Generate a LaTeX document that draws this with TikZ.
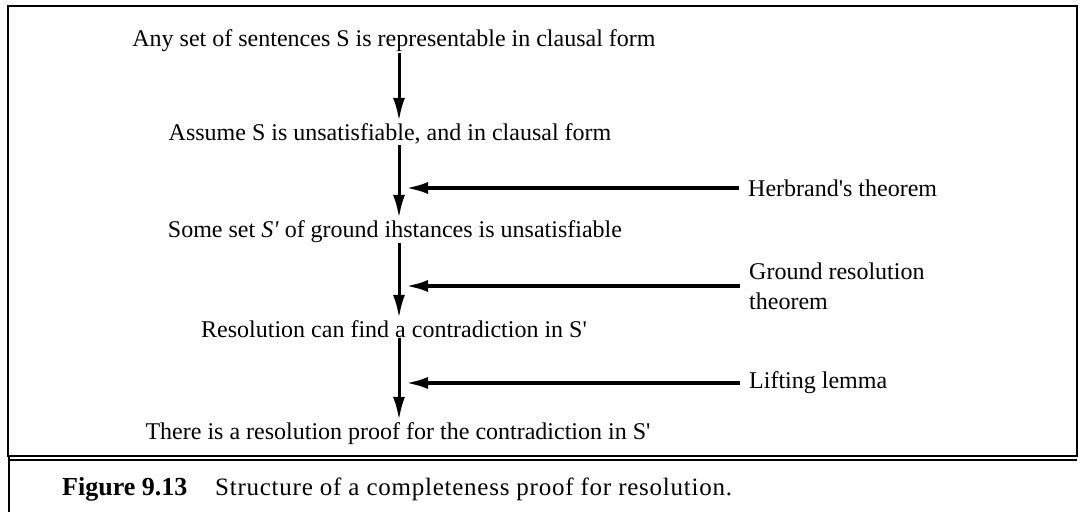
\documentclass[tikz,border=0pt]{standalone}
\usepackage{fontspec}
\setmainfont{Liberation Serif}[Ligatures=TeXOff]
\newfontfamily\capfont{Liberation Serif}[Ligatures=TeXOff,LetterSpace=3]
\usetikzlibrary{arrows.meta}
\begin{document}
\begin{tikzpicture}[x=1pt,y=-1pt,
  stmt/.style={inner sep=0pt, anchor=base, font=\fontsize{24}{28}\selectfont},
  lbl/.style={inner sep=0pt, anchor=west, align=left, font=\fontsize{24}{30}\selectfont},
  captxt/.style={inner sep=0pt, anchor=base west},
  varrow/.style={line width=3pt, -{Latex[length=23pt,width=12pt]}, shorten <=1pt, shorten >=2pt},
  harrow/.style={line width=4pt, -{Latex[length=23pt,width=12pt]}, shorten <=9pt, shorten >=6pt},
  frame/.style={line width=1.4pt}]
\useasboundingbox (0,0) rectangle (1081,516);
% frame
\draw[frame] (8,6) rectangle (1077,456);
\draw[frame] (8,460) -- (1077,460);
\draw[frame] (9,456) -- (9,512);
% spine
\coordinate (ax) at (399,0);
% statements
\node[stmt] (t1) at (394,47) {Any set of sentences S is representable in clausal form};
\node[stmt] (t2) at (390,140) {Assume S is unsatisfiable, and in clausal form};
\node[stmt] (t3) at (395,237) {Some set \textit{S'} of ground ihstances is unsatisfiable};
\node[stmt] (t4) at (394,337) {Resolution can find a contradiction in S'};
\node[stmt] (t5) at (398,439) {There is a resolution proof for the contradiction in S'};
% lemma labels
\node[lbl] (herb) at (748,188) {Herbrand's theorem};
\node[lbl] (grt) at (749,286) {Ground resolution\\theorem};
\node[lbl] (lift) at (749,383) {Lifting lemma};
% vertical arrows
\draw[varrow] (t1.south -| ax) -- (t2.north -| ax);
\draw[varrow] (t2.south -| ax) -- (t3.north -| ax);
\draw[varrow] (t3.south -| ax) -- (t4.north -| ax);
\draw[varrow] (t4.south -| ax) -- (t5.north -| ax);
% horizontal arrows
\draw[harrow] (herb.west) -- (herb.west -| ax);
\draw[harrow] (grt.west) -- (grt.west -| ax);
\draw[harrow] (lift.west) -- (lift.west -| ax);
% caption
\node[captxt, font=\fontsize{26}{30}\selectfont] (fig) at (62,495) {\textbf{Figure 9.13}};
\node[captxt, font=\capfont\fontsize{25}{30}\selectfont] (captext) at (215,495) {Structure of a completeness proof for resolution.};
\end{tikzpicture}
\end{document}
